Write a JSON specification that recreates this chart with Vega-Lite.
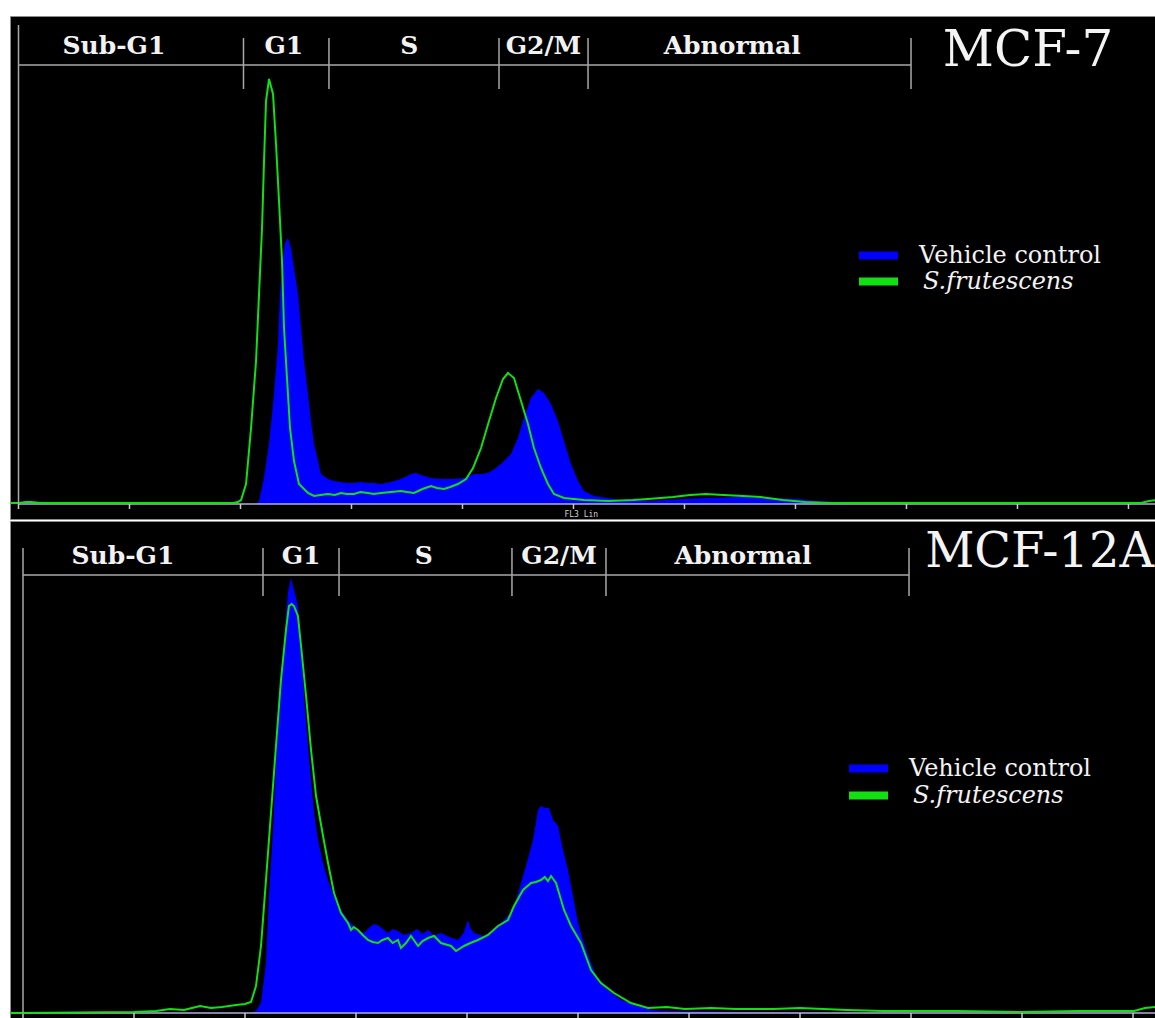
{
  "$schema": "https://vega.github.io/schema/vega-lite/v6.json",
  "background": "white",
  "padding": {"left": 9, "top": 15, "right": 0, "bottom": 0},
  "config": {
    "view": {"fill": "black", "stroke": "#8c8c8c", "strokeWidth": 1},
    "concat": {"spacing": 0},
    "axis": {"grid": false}
  },
  "datasets": {
    "ticks": [
      {"channel": 0}, {"channel": 100}, {"channel": 200}, {"channel": 300}, {"channel": 400}, {"channel": 500},
      {"channel": 600}, {"channel": 700}, {"channel": 800}, {"channel": 900}, {"channel": 1000}
    ],
    "mcf7": [
      {"sample": "Vehicle control", "channel": -8, "count": 0},
      {"sample": "Vehicle control", "channel": 210, "count": 0},
      {"sample": "Vehicle control", "channel": 214, "count": 0},
      {"sample": "Vehicle control", "channel": 216.7, "count": 3},
      {"sample": "Vehicle control", "channel": 221.2, "count": 26},
      {"sample": "Vehicle control", "channel": 225.7, "count": 60},
      {"sample": "Vehicle control", "channel": 230.2, "count": 110},
      {"sample": "Vehicle control", "channel": 233.8, "count": 160},
      {"sample": "Vehicle control", "channel": 235.6, "count": 210},
      {"sample": "Vehicle control", "channel": 238.3, "count": 243},
      {"sample": "Vehicle control", "channel": 240.1, "count": 261},
      {"sample": "Vehicle control", "channel": 242.8, "count": 266},
      {"sample": "Vehicle control", "channel": 245.5, "count": 256},
      {"sample": "Vehicle control", "channel": 248.2, "count": 236},
      {"sample": "Vehicle control", "channel": 251.8, "count": 210},
      {"sample": "Vehicle control", "channel": 254.5, "count": 176},
      {"sample": "Vehicle control", "channel": 257.2, "count": 143},
      {"sample": "Vehicle control", "channel": 260.8, "count": 110},
      {"sample": "Vehicle control", "channel": 263.5, "count": 83},
      {"sample": "Vehicle control", "channel": 266.2, "count": 60},
      {"sample": "Vehicle control", "channel": 269.8, "count": 43},
      {"sample": "Vehicle control", "channel": 272.5, "count": 30},
      {"sample": "Vehicle control", "channel": 278.8, "count": 25},
      {"sample": "Vehicle control", "channel": 284, "count": 23},
      {"sample": "Vehicle control", "channel": 290.5, "count": 22},
      {"sample": "Vehicle control", "channel": 296, "count": 21},
      {"sample": "Vehicle control", "channel": 302.3, "count": 21},
      {"sample": "Vehicle control", "channel": 308, "count": 22},
      {"sample": "Vehicle control", "channel": 314.9, "count": 21},
      {"sample": "Vehicle control", "channel": 320, "count": 21},
      {"sample": "Vehicle control", "channel": 326.6, "count": 20},
      {"sample": "Vehicle control", "channel": 335.6, "count": 22},
      {"sample": "Vehicle control", "channel": 344.6, "count": 25},
      {"sample": "Vehicle control", "channel": 353.6, "count": 30},
      {"sample": "Vehicle control", "channel": 358, "count": 31},
      {"sample": "Vehicle control", "channel": 362.6, "count": 29},
      {"sample": "Vehicle control", "channel": 371.6, "count": 26},
      {"sample": "Vehicle control", "channel": 380.6, "count": 25},
      {"sample": "Vehicle control", "channel": 392.3, "count": 25},
      {"sample": "Vehicle control", "channel": 401.4, "count": 26},
      {"sample": "Vehicle control", "channel": 410.4, "count": 30},
      {"sample": "Vehicle control", "channel": 417, "count": 30},
      {"sample": "Vehicle control", "channel": 423, "count": 31},
      {"sample": "Vehicle control", "channel": 429, "count": 35},
      {"sample": "Vehicle control", "channel": 434.7, "count": 40},
      {"sample": "Vehicle control", "channel": 443.7, "count": 50},
      {"sample": "Vehicle control", "channel": 450, "count": 66},
      {"sample": "Vehicle control", "channel": 455.4, "count": 86},
      {"sample": "Vehicle control", "channel": 461.7, "count": 106},
      {"sample": "Vehicle control", "channel": 468, "count": 115},
      {"sample": "Vehicle control", "channel": 473.4, "count": 111},
      {"sample": "Vehicle control", "channel": 479.7, "count": 100},
      {"sample": "Vehicle control", "channel": 486, "count": 83},
      {"sample": "Vehicle control", "channel": 491.4, "count": 63},
      {"sample": "Vehicle control", "channel": 497.7, "count": 40},
      {"sample": "Vehicle control", "channel": 504.1, "count": 23},
      {"sample": "Vehicle control", "channel": 509.5, "count": 13},
      {"sample": "Vehicle control", "channel": 518.5, "count": 8},
      {"sample": "Vehicle control", "channel": 531.1, "count": 6},
      {"sample": "Vehicle control", "channel": 542.8, "count": 4},
      {"sample": "Vehicle control", "channel": 569.8, "count": 3},
      {"sample": "Vehicle control", "channel": 597.3, "count": 5},
      {"sample": "Vehicle control", "channel": 619.4, "count": 6},
      {"sample": "Vehicle control", "channel": 652.7, "count": 7},
      {"sample": "Vehicle control", "channel": 677.9, "count": 6},
      {"sample": "Vehicle control", "channel": 702.3, "count": 5},
      {"sample": "Vehicle control", "channel": 718.5, "count": 3},
      {"sample": "Vehicle control", "channel": 734.7, "count": 2},
      {"sample": "Vehicle control", "channel": 750.9, "count": 1},
      {"sample": "Vehicle control", "channel": 768, "count": 0},
      {"sample": "Vehicle control", "channel": 1030, "count": 0},
      {"sample": "S.frutescens", "channel": -8, "count": 1},
      {"sample": "S.frutescens", "channel": 0, "count": 1},
      {"sample": "S.frutescens", "channel": 6.8, "count": 2},
      {"sample": "S.frutescens", "channel": 11.3, "count": 2},
      {"sample": "S.frutescens", "channel": 20.3, "count": 1},
      {"sample": "S.frutescens", "channel": 74.3, "count": 1},
      {"sample": "S.frutescens", "channel": 119.4, "count": 1},
      {"sample": "S.frutescens", "channel": 164.4, "count": 1},
      {"sample": "S.frutescens", "channel": 193.2, "count": 1},
      {"sample": "S.frutescens", "channel": 197.7, "count": 2},
      {"sample": "S.frutescens", "channel": 200.5, "count": 4},
      {"sample": "S.frutescens", "channel": 205, "count": 20},
      {"sample": "S.frutescens", "channel": 209.5, "count": 76},
      {"sample": "S.frutescens", "channel": 214, "count": 143},
      {"sample": "S.frutescens", "channel": 216.7, "count": 210},
      {"sample": "S.frutescens", "channel": 219.4, "count": 276},
      {"sample": "S.frutescens", "channel": 221.2, "count": 343},
      {"sample": "S.frutescens", "channel": 223, "count": 403},
      {"sample": "S.frutescens", "channel": 225.7, "count": 425},
      {"sample": "S.frutescens", "channel": 229.3, "count": 410},
      {"sample": "S.frutescens", "channel": 232, "count": 360},
      {"sample": "S.frutescens", "channel": 234.7, "count": 303},
      {"sample": "S.frutescens", "channel": 237.4, "count": 243},
      {"sample": "S.frutescens", "channel": 239.2, "count": 176},
      {"sample": "S.frutescens", "channel": 241.9, "count": 126},
      {"sample": "S.frutescens", "channel": 244.6, "count": 76},
      {"sample": "S.frutescens", "channel": 248.2, "count": 43},
      {"sample": "S.frutescens", "channel": 252.7, "count": 20},
      {"sample": "S.frutescens", "channel": 260.8, "count": 11},
      {"sample": "S.frutescens", "channel": 266.2, "count": 8},
      {"sample": "S.frutescens", "channel": 272, "count": 9},
      {"sample": "S.frutescens", "channel": 278.8, "count": 10},
      {"sample": "S.frutescens", "channel": 285, "count": 9},
      {"sample": "S.frutescens", "channel": 290.5, "count": 11},
      {"sample": "S.frutescens", "channel": 296, "count": 10},
      {"sample": "S.frutescens", "channel": 302.3, "count": 10},
      {"sample": "S.frutescens", "channel": 308, "count": 12},
      {"sample": "S.frutescens", "channel": 314.9, "count": 11},
      {"sample": "S.frutescens", "channel": 320, "count": 10},
      {"sample": "S.frutescens", "channel": 326.6, "count": 11},
      {"sample": "S.frutescens", "channel": 335.6, "count": 12},
      {"sample": "S.frutescens", "channel": 344.6, "count": 13},
      {"sample": "S.frutescens", "channel": 350, "count": 12},
      {"sample": "S.frutescens", "channel": 356.3, "count": 11},
      {"sample": "S.frutescens", "channel": 364, "count": 15},
      {"sample": "S.frutescens", "channel": 371.6, "count": 18},
      {"sample": "S.frutescens", "channel": 377, "count": 16},
      {"sample": "S.frutescens", "channel": 383.3, "count": 15},
      {"sample": "S.frutescens", "channel": 389, "count": 17},
      {"sample": "S.frutescens", "channel": 395.9, "count": 20},
      {"sample": "S.frutescens", "channel": 403.2, "count": 25},
      {"sample": "S.frutescens", "channel": 409.5, "count": 36},
      {"sample": "S.frutescens", "channel": 416.7, "count": 56},
      {"sample": "S.frutescens", "channel": 423.9, "count": 83},
      {"sample": "S.frutescens", "channel": 430.2, "count": 106},
      {"sample": "S.frutescens", "channel": 436.5, "count": 125},
      {"sample": "S.frutescens", "channel": 441, "count": 131},
      {"sample": "S.frutescens", "channel": 446.4, "count": 126},
      {"sample": "S.frutescens", "channel": 452.7, "count": 103},
      {"sample": "S.frutescens", "channel": 459, "count": 80},
      {"sample": "S.frutescens", "channel": 464.4, "count": 56},
      {"sample": "S.frutescens", "channel": 470.7, "count": 36},
      {"sample": "S.frutescens", "channel": 477, "count": 20},
      {"sample": "S.frutescens", "channel": 482.4, "count": 10},
      {"sample": "S.frutescens", "channel": 491.4, "count": 6},
      {"sample": "S.frutescens", "channel": 509.5, "count": 4},
      {"sample": "S.frutescens", "channel": 531.1, "count": 3},
      {"sample": "S.frutescens", "channel": 553.6, "count": 4},
      {"sample": "S.frutescens", "channel": 567.1, "count": 5},
      {"sample": "S.frutescens", "channel": 589.6, "count": 7},
      {"sample": "S.frutescens", "channel": 605, "count": 9},
      {"sample": "S.frutescens", "channel": 619.4, "count": 10},
      {"sample": "S.frutescens", "channel": 635, "count": 9},
      {"sample": "S.frutescens", "channel": 652.7, "count": 8},
      {"sample": "S.frutescens", "channel": 668.9, "count": 7},
      {"sample": "S.frutescens", "channel": 688.7, "count": 4},
      {"sample": "S.frutescens", "channel": 708.6, "count": 2},
      {"sample": "S.frutescens", "channel": 732, "count": 1},
      {"sample": "S.frutescens", "channel": 795, "count": 1},
      {"sample": "S.frutescens", "channel": 885.1, "count": 1},
      {"sample": "S.frutescens", "channel": 975.2, "count": 1},
      {"sample": "S.frutescens", "channel": 1011.3, "count": 1},
      {"sample": "S.frutescens", "channel": 1018.5, "count": 3},
      {"sample": "S.frutescens", "channel": 1025, "count": 4}
    ],
    "mcf12a": [
      {"sample": "Vehicle control", "channel": -12, "count": 0},
      {"sample": "Vehicle control", "channel": 205, "count": 0},
      {"sample": "Vehicle control", "channel": 209.9, "count": 2},
      {"sample": "Vehicle control", "channel": 214.4, "count": 10},
      {"sample": "Vehicle control", "channel": 218.9, "count": 50},
      {"sample": "Vehicle control", "channel": 221.6, "count": 117},
      {"sample": "Vehicle control", "channel": 225.2, "count": 183},
      {"sample": "Vehicle control", "channel": 227.9, "count": 250},
      {"sample": "Vehicle control", "channel": 230.6, "count": 300},
      {"sample": "Vehicle control", "channel": 234.2, "count": 350},
      {"sample": "Vehicle control", "channel": 236.9, "count": 397},
      {"sample": "Vehicle control", "channel": 238.7, "count": 420},
      {"sample": "Vehicle control", "channel": 241.4, "count": 435},
      {"sample": "Vehicle control", "channel": 244.1, "count": 423},
      {"sample": "Vehicle control", "channel": 247.7, "count": 407},
      {"sample": "Vehicle control", "channel": 250.5, "count": 367},
      {"sample": "Vehicle control", "channel": 253.2, "count": 317},
      {"sample": "Vehicle control", "channel": 256.8, "count": 267},
      {"sample": "Vehicle control", "channel": 259.5, "count": 233},
      {"sample": "Vehicle control", "channel": 262.2, "count": 200},
      {"sample": "Vehicle control", "channel": 265.8, "count": 173},
      {"sample": "Vehicle control", "channel": 270.3, "count": 150},
      {"sample": "Vehicle control", "channel": 274.8, "count": 133},
      {"sample": "Vehicle control", "channel": 280.2, "count": 117},
      {"sample": "Vehicle control", "channel": 286.5, "count": 103},
      {"sample": "Vehicle control", "channel": 292.8, "count": 93},
      {"sample": "Vehicle control", "channel": 301.8, "count": 83},
      {"sample": "Vehicle control", "channel": 307.2, "count": 80},
      {"sample": "Vehicle control", "channel": 313.5, "count": 87},
      {"sample": "Vehicle control", "channel": 317, "count": 89},
      {"sample": "Vehicle control", "channel": 320.7, "count": 87},
      {"sample": "Vehicle control", "channel": 328.8, "count": 80},
      {"sample": "Vehicle control", "channel": 333, "count": 84},
      {"sample": "Vehicle control", "channel": 337.8, "count": 82},
      {"sample": "Vehicle control", "channel": 343, "count": 78},
      {"sample": "Vehicle control", "channel": 349.5, "count": 80},
      {"sample": "Vehicle control", "channel": 355, "count": 84},
      {"sample": "Vehicle control", "channel": 360, "count": 79},
      {"sample": "Vehicle control", "channel": 364.9, "count": 83},
      {"sample": "Vehicle control", "channel": 370, "count": 78},
      {"sample": "Vehicle control", "channel": 376.6, "count": 80},
      {"sample": "Vehicle control", "channel": 384, "count": 76},
      {"sample": "Vehicle control", "channel": 391.9, "count": 73},
      {"sample": "Vehicle control", "channel": 397, "count": 80},
      {"sample": "Vehicle control", "channel": 400.9, "count": 93},
      {"sample": "Vehicle control", "channel": 403, "count": 85},
      {"sample": "Vehicle control", "channel": 406.3, "count": 80},
      {"sample": "Vehicle control", "channel": 415.3, "count": 77},
      {"sample": "Vehicle control", "channel": 424.3, "count": 83},
      {"sample": "Vehicle control", "channel": 433.3, "count": 93},
      {"sample": "Vehicle control", "channel": 441.4, "count": 103},
      {"sample": "Vehicle control", "channel": 446.8, "count": 123},
      {"sample": "Vehicle control", "channel": 453.2, "count": 147},
      {"sample": "Vehicle control", "channel": 459.5, "count": 173},
      {"sample": "Vehicle control", "channel": 464, "count": 203},
      {"sample": "Vehicle control", "channel": 466.7, "count": 207},
      {"sample": "Vehicle control", "channel": 470, "count": 205},
      {"sample": "Vehicle control", "channel": 473.9, "count": 205},
      {"sample": "Vehicle control", "channel": 477.5, "count": 193},
      {"sample": "Vehicle control", "channel": 482, "count": 187},
      {"sample": "Vehicle control", "channel": 486.5, "count": 163},
      {"sample": "Vehicle control", "channel": 491, "count": 143},
      {"sample": "Vehicle control", "channel": 495.5, "count": 117},
      {"sample": "Vehicle control", "channel": 500, "count": 90},
      {"sample": "Vehicle control", "channel": 505.4, "count": 70},
      {"sample": "Vehicle control", "channel": 511.7, "count": 50},
      {"sample": "Vehicle control", "channel": 518, "count": 33},
      {"sample": "Vehicle control", "channel": 527, "count": 23},
      {"sample": "Vehicle control", "channel": 538.7, "count": 13},
      {"sample": "Vehicle control", "channel": 554.1, "count": 7},
      {"sample": "Vehicle control", "channel": 565.8, "count": 3},
      {"sample": "Vehicle control", "channel": 576.6, "count": 2},
      {"sample": "Vehicle control", "channel": 675.7, "count": 1},
      {"sample": "Vehicle control", "channel": 746, "count": 0},
      {"sample": "Vehicle control", "channel": 1025, "count": 0},
      {"sample": "S.frutescens", "channel": -12, "count": 0},
      {"sample": "S.frutescens", "channel": 0, "count": 0},
      {"sample": "S.frutescens", "channel": 100, "count": 1},
      {"sample": "S.frutescens", "channel": 120, "count": 2},
      {"sample": "S.frutescens", "channel": 132.4, "count": 4},
      {"sample": "S.frutescens", "channel": 145, "count": 3},
      {"sample": "S.frutescens", "channel": 159.5, "count": 7},
      {"sample": "S.frutescens", "channel": 169.4, "count": 5},
      {"sample": "S.frutescens", "channel": 179.3, "count": 6},
      {"sample": "S.frutescens", "channel": 191.9, "count": 8},
      {"sample": "S.frutescens", "channel": 200, "count": 9},
      {"sample": "S.frutescens", "channel": 205.4, "count": 11},
      {"sample": "S.frutescens", "channel": 209.9, "count": 27},
      {"sample": "S.frutescens", "channel": 214.4, "count": 67},
      {"sample": "S.frutescens", "channel": 218.9, "count": 133},
      {"sample": "S.frutescens", "channel": 223.4, "count": 200},
      {"sample": "S.frutescens", "channel": 227.9, "count": 267},
      {"sample": "S.frutescens", "channel": 232.4, "count": 333},
      {"sample": "S.frutescens", "channel": 236.9, "count": 383},
      {"sample": "S.frutescens", "channel": 239.6, "count": 407},
      {"sample": "S.frutescens", "channel": 242, "count": 409},
      {"sample": "S.frutescens", "channel": 244.1, "count": 407},
      {"sample": "S.frutescens", "channel": 247.7, "count": 397},
      {"sample": "S.frutescens", "channel": 250.5, "count": 367},
      {"sample": "S.frutescens", "channel": 255, "count": 317},
      {"sample": "S.frutescens", "channel": 259.5, "count": 263},
      {"sample": "S.frutescens", "channel": 264, "count": 217},
      {"sample": "S.frutescens", "channel": 270.3, "count": 177},
      {"sample": "S.frutescens", "channel": 274.8, "count": 150},
      {"sample": "S.frutescens", "channel": 280.2, "count": 120},
      {"sample": "S.frutescens", "channel": 286.5, "count": 100},
      {"sample": "S.frutescens", "channel": 292.8, "count": 90},
      {"sample": "S.frutescens", "channel": 295.5, "count": 83},
      {"sample": "S.frutescens", "channel": 298, "count": 86},
      {"sample": "S.frutescens", "channel": 301.8, "count": 83},
      {"sample": "S.frutescens", "channel": 306, "count": 78},
      {"sample": "S.frutescens", "channel": 310.8, "count": 73},
      {"sample": "S.frutescens", "channel": 315, "count": 71},
      {"sample": "S.frutescens", "channel": 319.8, "count": 70},
      {"sample": "S.frutescens", "channel": 324, "count": 73},
      {"sample": "S.frutescens", "channel": 328.8, "count": 75},
      {"sample": "S.frutescens", "channel": 333, "count": 70},
      {"sample": "S.frutescens", "channel": 337.8, "count": 73},
      {"sample": "S.frutescens", "channel": 340.5, "count": 65},
      {"sample": "S.frutescens", "channel": 345, "count": 70},
      {"sample": "S.frutescens", "channel": 349.5, "count": 77},
      {"sample": "S.frutescens", "channel": 355.9, "count": 67},
      {"sample": "S.frutescens", "channel": 360, "count": 72},
      {"sample": "S.frutescens", "channel": 364.9, "count": 75},
      {"sample": "S.frutescens", "channel": 370.3, "count": 77},
      {"sample": "S.frutescens", "channel": 376.6, "count": 70},
      {"sample": "S.frutescens", "channel": 385.6, "count": 67},
      {"sample": "S.frutescens", "channel": 390.1, "count": 62},
      {"sample": "S.frutescens", "channel": 397.3, "count": 67},
      {"sample": "S.frutescens", "channel": 403, "count": 70},
      {"sample": "S.frutescens", "channel": 409.9, "count": 73},
      {"sample": "S.frutescens", "channel": 418.9, "count": 78},
      {"sample": "S.frutescens", "channel": 427.9, "count": 87},
      {"sample": "S.frutescens", "channel": 436.9, "count": 93},
      {"sample": "S.frutescens", "channel": 442.3, "count": 107},
      {"sample": "S.frutescens", "channel": 450.5, "count": 123},
      {"sample": "S.frutescens", "channel": 457.7, "count": 130},
      {"sample": "S.frutescens", "channel": 462, "count": 131},
      {"sample": "S.frutescens", "channel": 466.7, "count": 133},
      {"sample": "S.frutescens", "channel": 470, "count": 136},
      {"sample": "S.frutescens", "channel": 473, "count": 132},
      {"sample": "S.frutescens", "channel": 475.7, "count": 137},
      {"sample": "S.frutescens", "channel": 480.2, "count": 130},
      {"sample": "S.frutescens", "channel": 487.4, "count": 103},
      {"sample": "S.frutescens", "channel": 493.7, "count": 87},
      {"sample": "S.frutescens", "channel": 502.7, "count": 70},
      {"sample": "S.frutescens", "channel": 511.7, "count": 43},
      {"sample": "S.frutescens", "channel": 520.7, "count": 30},
      {"sample": "S.frutescens", "channel": 532.4, "count": 20},
      {"sample": "S.frutescens", "channel": 547.7, "count": 10},
      {"sample": "S.frutescens", "channel": 563.1, "count": 5},
      {"sample": "S.frutescens", "channel": 580, "count": 6},
      {"sample": "S.frutescens", "channel": 596.4, "count": 4},
      {"sample": "S.frutescens", "channel": 620, "count": 5},
      {"sample": "S.frutescens", "channel": 642.3, "count": 4},
      {"sample": "S.frutescens", "channel": 675.7, "count": 4},
      {"sample": "S.frutescens", "channel": 700, "count": 5},
      {"sample": "S.frutescens", "channel": 742.3, "count": 3},
      {"sample": "S.frutescens", "channel": 774.8, "count": 2},
      {"sample": "S.frutescens", "channel": 841.4, "count": 2},
      {"sample": "S.frutescens", "channel": 900, "count": 1},
      {"sample": "S.frutescens", "channel": 950, "count": 2},
      {"sample": "S.frutescens", "channel": 1000.9, "count": 2},
      {"sample": "S.frutescens", "channel": 1010.8, "count": 5},
      {"sample": "S.frutescens", "channel": 1021, "count": 6}
    ],
    "gates_mcf7": [
      {"phase": "Sub-G1", "start": 0, "end": 202.7, "labelAt": 86},
      {"phase": "G1", "start": 202.7, "end": 279.7, "labelAt": 239},
      {"phase": "S", "start": 279.7, "end": 432.9, "labelAt": 352},
      {"phase": "G2/M", "start": 432.9, "end": 513.1, "labelAt": 473},
      {"phase": "Abnormal", "start": 513.1, "end": 804.1, "labelAt": 643}
    ],
    "gates_mcf12a": [
      {"phase": "Sub-G1", "start": 0, "end": 216.2, "labelAt": 90},
      {"phase": "G1", "start": 216.2, "end": 284.7, "labelAt": 250.5},
      {"phase": "S", "start": 284.7, "end": 440.5, "labelAt": 361},
      {"phase": "G2/M", "start": 440.5, "end": 525.2, "labelAt": 483},
      {"phase": "Abnormal", "start": 525.2, "end": 798.2, "labelAt": 648.6}
    ]
  },
  "resolve": {
    "scale": {"fill": "independent", "stroke": "independent"},
    "legend": {"fill": "independent", "stroke": "independent"}
  },
  "vconcat": [
    {
      "width": 1146,
      "height": 503,
      "layer": [
        {
          "data": {"name": "mcf7"},
          "transform": [{"filter": "datum.sample === 'Vehicle control'"}],
          "mark": {"type": "area", "clip": true, "interpolate": "linear"},
          "encoding": {
            "x": {"field": "channel", "type": "quantitative",
              "scale": {"domain": [-7.66, 1024.8], "nice": false, "zero": false}, "axis": null},
            "y": {"field": "count", "type": "quantitative",
              "scale": {"domain": [-15, 488], "nice": false, "zero": false}, "axis": null},
            "fill": {"field": "sample", "type": "nominal",
              "scale": {"domain": ["Vehicle control"], "range": ["#0000ff"]},
              "legend": {"title": null, "orient": "none", "legendX": 849, "legendY": 220, "padding": 0,
                "symbolType": "M-1,-0.2H1V0.2H-1Z", "symbolSize": 1521, "symbolStrokeWidth": 0,
                "labelFont": "DejaVu Serif", "labelFontSize": 24, "labelColor": "#f2f2f2", "labelOffset": 21, "labelLimit": 400}}
          }
        },
        {
          "data": {"values": [{}]},
          "mark": {"type": "rule", "color": "#b0b0d8", "strokeWidth": 1.5},
          "encoding": {
            "x": {"datum": 0, "type": "quantitative", "axis": null},
            "x2": {"datum": 1024.8},
            "y": {"datum": 0, "type": "quantitative", "axis": null}
          }
        },
        {
          "data": {"name": "ticks"},
          "mark": {"type": "rule", "color": "#c8c8c8", "strokeWidth": 1.5},
          "encoding": {
            "x": {"field": "channel", "type": "quantitative", "axis": null},
            "y": {"datum": 0, "type": "quantitative", "axis": null},
            "y2": {"datum": -5}
          }
        },
        {
          "data": {"values": [{}]},
          "mark": {"type": "text", "font": "DejaVu Sans Mono", "fontSize": 8, "color": "#d0d0d0", "baseline": "middle", "align": "center", "text": "FL3 Lin"},
          "encoding": {
            "x": {"datum": 507, "type": "quantitative", "axis": null},
            "y": {"datum": -10.5, "type": "quantitative", "axis": null}
          }
        },
        {
          "data": {"name": "mcf7"},
          "transform": [{"filter": "datum.sample === 'S.frutescens'"}],
          "mark": {"type": "line", "clip": true, "strokeWidth": 2},
          "encoding": {
            "x": {"field": "channel", "type": "quantitative", "axis": null},
            "y": {"field": "count", "type": "quantitative", "axis": null},
            "stroke": {"field": "sample", "type": "nominal",
              "scale": {"domain": ["S.frutescens"], "range": ["#12e012"]},
              "legend": {"title": null, "orient": "none", "legendX": 845, "legendY": 242, "padding": 0,
                "symbolType": "stroke", "symbolSize": 1521, "symbolStrokeWidth": 8,
                "labelFont": "DejaVu Serif", "labelFontSize": 24, "labelFontStyle": "italic", "labelColor": "#f2f2f2", "labelOffset": 21, "labelLimit": 400}}
          }
        },
        {
          "data": {"name": "gates_mcf7"},
          "mark": {"type": "rule", "color": "#a8a8a8", "strokeWidth": 1.5},
          "encoding": {
            "x": {"field": "start", "type": "quantitative", "axis": null},
            "x2": {"field": "end"},
            "y": {"datum": 439, "type": "quantitative", "axis": null}
          }
        },
        {
          "data": {"name": "gates_mcf7"},
          "mark": {"type": "rule", "color": "#a8a8a8", "strokeWidth": 1.5},
          "encoding": {
            "x": {"field": "end", "type": "quantitative", "axis": null},
            "y": {"datum": 415, "type": "quantitative", "axis": null},
            "y2": {"datum": 466}
          }
        },
        {
          "data": {"values": [{}]},
          "mark": {"type": "rule", "color": "#a8a8a8", "strokeWidth": 1.5},
          "encoding": {
            "x": {"datum": 0, "type": "quantitative", "axis": null},
            "y": {"datum": 0, "type": "quantitative", "axis": null},
            "y2": {"datum": 479}
          }
        },
        {
          "data": {"name": "gates_mcf7"},
          "mark": {"type": "text", "font": "DejaVu Serif", "fontWeight": "bold", "fontSize": 25, "color": "#f2f2f2", "baseline": "middle", "align": "center"},
          "encoding": {
            "x": {"field": "labelAt", "type": "quantitative", "axis": null},
            "y": {"datum": 458, "type": "quantitative", "axis": null},
            "text": {"field": "phase"}
          }
        },
        {
          "data": {"values": [{}]},
          "mark": {"type": "text", "font": "DejaVu Serif", "fontSize": 50, "color": "#f4f4f4", "baseline": "middle", "align": "center", "text": "MCF-7"},
          "encoding": {
            "x": {"datum": 909.5, "type": "quantitative", "axis": null},
            "y": {"datum": 453, "type": "quantitative", "axis": null}
          }
        }
      ]
    },
    {
      "width": 1146,
      "height": 500,
      "layer": [
        {
          "data": {"name": "mcf12a"},
          "transform": [{"filter": "datum.sample === 'Vehicle control'"}],
          "mark": {"type": "area", "clip": true, "interpolate": "linear"},
          "encoding": {
            "x": {"field": "channel", "type": "quantitative",
              "scale": {"domain": [-11.71, 1020.7], "nice": false, "zero": false}, "axis": null},
            "y": {"field": "count", "type": "quantitative",
              "scale": {"domain": [-8, 492], "nice": false, "zero": false}, "axis": null},
            "fill": {"field": "sample", "type": "nominal",
              "scale": {"domain": ["Vehicle control"], "range": ["#0000ff"]},
              "legend": {"title": null, "orient": "none", "legendX": 839, "legendY": 228, "padding": 0,
                "symbolType": "M-1,-0.2H1V0.2H-1Z", "symbolSize": 1521, "symbolStrokeWidth": 0,
                "labelFont": "DejaVu Serif", "labelFontSize": 24, "labelColor": "#f2f2f2", "labelOffset": 21, "labelLimit": 400}}
          }
        },
        {
          "data": {"values": [{}]},
          "mark": {"type": "rule", "color": "#b0b0d8", "strokeWidth": 1.5},
          "encoding": {
            "x": {"datum": 0, "type": "quantitative", "axis": null},
            "x2": {"datum": 1020.7},
            "y": {"datum": 0, "type": "quantitative", "axis": null}
          }
        },
        {
          "data": {"name": "ticks"},
          "mark": {"type": "rule", "color": "#c8c8c8", "strokeWidth": 1.5},
          "encoding": {
            "x": {"field": "channel", "type": "quantitative", "axis": null},
            "y": {"datum": 0, "type": "quantitative", "axis": null},
            "y2": {"datum": -5}
          }
        },
        {
          "data": {"name": "mcf12a"},
          "transform": [{"filter": "datum.sample === 'S.frutescens'"}],
          "mark": {"type": "line", "clip": true, "strokeWidth": 2},
          "encoding": {
            "x": {"field": "channel", "type": "quantitative", "axis": null},
            "y": {"field": "count", "type": "quantitative", "axis": null},
            "stroke": {"field": "sample", "type": "nominal",
              "scale": {"domain": ["S.frutescens"], "range": ["#12e012"]},
              "legend": {"title": null, "orient": "none", "legendX": 835, "legendY": 251, "padding": 0,
                "symbolType": "stroke", "symbolSize": 1521, "symbolStrokeWidth": 8,
                "labelFont": "DejaVu Serif", "labelFontSize": 24, "labelFontStyle": "italic", "labelColor": "#f2f2f2", "labelOffset": 21, "labelLimit": 400}}
          }
        },
        {
          "data": {"name": "gates_mcf12a"},
          "mark": {"type": "rule", "color": "#a8a8a8", "strokeWidth": 1.5},
          "encoding": {
            "x": {"field": "start", "type": "quantitative", "axis": null},
            "x2": {"field": "end"},
            "y": {"datum": 438, "type": "quantitative", "axis": null}
          }
        },
        {
          "data": {"name": "gates_mcf12a"},
          "mark": {"type": "rule", "color": "#a8a8a8", "strokeWidth": 1.5},
          "encoding": {
            "x": {"field": "end", "type": "quantitative", "axis": null},
            "y": {"datum": 417, "type": "quantitative", "axis": null},
            "y2": {"datum": 465}
          }
        },
        {
          "data": {"values": [{}]},
          "mark": {"type": "rule", "color": "#a8a8a8", "strokeWidth": 1.5},
          "encoding": {
            "x": {"datum": 0, "type": "quantitative", "axis": null},
            "y": {"datum": 0, "type": "quantitative", "axis": null},
            "y2": {"datum": 465}
          }
        },
        {
          "data": {"name": "gates_mcf12a"},
          "mark": {"type": "text", "font": "DejaVu Serif", "fontWeight": "bold", "fontSize": 25, "color": "#f2f2f2", "baseline": "middle", "align": "center"},
          "encoding": {
            "x": {"field": "labelAt", "type": "quantitative", "axis": null},
            "y": {"datum": 457, "type": "quantitative", "axis": null},
            "text": {"field": "phase"}
          }
        },
        {
          "data": {"values": [{}]},
          "mark": {"type": "text", "font": "DejaVu Serif", "fontSize": 48, "color": "#f4f4f4", "baseline": "middle", "align": "right", "text": "MCF-12A"},
          "encoding": {
            "x": {"datum": 1019, "type": "quantitative", "axis": null},
            "y": {"datum": 460, "type": "quantitative", "axis": null}
          }
        }
      ]
    }
  ]
}
